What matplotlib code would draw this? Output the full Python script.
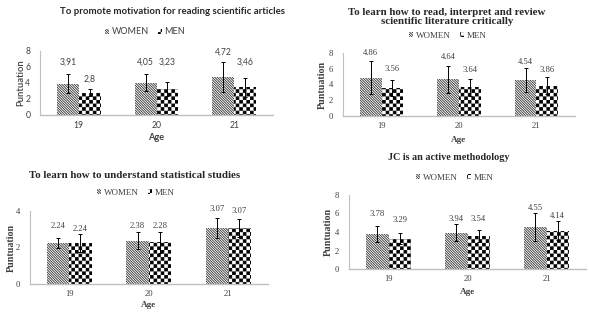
import numpy as np
import matplotlib
matplotlib.use("Agg")
import matplotlib.pyplot as plt
import matplotlib.hatch as mhatch
from matplotlib.path import Path
from matplotlib.patches import Patch

# ---------------- data ----------------
ages = ["19", "20", "21"]
series = ["WOMEN", "MEN"]

titles = [
    "To promote motivation for reading scientific articles",
    "To learn how to read, interpret and review\nscientific literature critically",
    "To learn how to understand statistical studies",
    "JC is an active methodology",
]

p1_women = [3.91, 4.05, 4.72]
p1_men = [2.80, 3.23, 3.46]
p1_women_err = [1.2, 1.05, 1.9]
p1_men_err = [0.45, 0.85, 1.2]

p2_women = [4.86, 4.64, 4.54]
p2_men = [3.56, 3.64, 3.86]
p2_women_err = [2.1, 1.75, 1.55]
p2_men_err = [1.0, 1.1, 1.1]

p3_women = [2.24, 2.38, 3.07]
p3_men = [2.24, 2.28, 3.07]
p3_women_err = [0.27, 0.46, 0.53]
p3_men_err = [0.49, 0.56, 0.5]

p4_women = [3.78, 3.94, 4.55]
p4_men = [3.29, 3.54, 4.14]
p4_women_err = [0.82, 0.95, 1.5]
p4_men_err = [0.64, 0.64, 1.04]

y_ticks = [[0, 2, 4, 6, 8], [0, 2, 4, 6, 8], [0, 2, 4], [0, 2, 4, 6, 8]]

# label heights (layout, data units) for the value labels
lab_women = [[6.6, 6.6, 7.9], [8.0, 7.5, 6.9], [3.17, 3.17, 4.1], [5.9, 5.4, 6.6]]
lab_men = [[4.5, 6.6, 6.6], [6.0, 5.9, 5.8], [3.0, 3.17, 4.0], [5.3, 5.4, 5.7]]

# ---------------- custom hatches: 'O' checkerboard, 'o' fine diagonals ----------------
HATCH_LW = 0.6
plt.rcParams['hatch.linewidth'] = HATCH_LW


class _Checker(mhatch.HatchPatternBase):
    def __init__(self, hatch, density):
        n = hatch.count('O') * 7
        if n % 2:
            n += 1
        self.n = n
        self.num_vertices = (n * n // 2) * 5 if n else 0

    def set_vertices_and_codes(self, vertices, codes):
        n = self.n
        s = 1.0 / n
        d = (HATCH_LW * 100 / 72.0) / 2.0 / 100.0
        k = 0
        for i in range(n):
            for j in range(n):
                if (i + j) % 2 == 0:
                    x0, y0 = i * s + d, j * s + d
                    x1, y1 = (i + 1) * s - d, (j + 1) * s - d
                    vertices[k:k + 5] = [(x0, y0), (x1, y0), (x1, y1), (x0, y1), (x0, y0)]
                    codes[k:k + 5] = [Path.MOVETO, Path.LINETO, Path.LINETO,
                                      Path.LINETO, Path.CLOSEPOLY]
                    k += 5


class _Diag(mhatch.HatchPatternBase):
    def __init__(self, hatch, density):
        self.num_lines = hatch.count('o') * 20
        self.num_vertices = (self.num_lines + 1) * 2 if self.num_lines else 0

    def set_vertices_and_codes(self, vertices, codes):
        steps = np.linspace(-0.5, 0.5, self.num_lines + 1)
        vertices[0::2, 0] = 0.0 + steps
        vertices[0::2, 1] = 1.0 + steps
        vertices[1::2, 0] = 1.0 + steps
        vertices[1::2, 1] = 0.0 + steps
        codes[0::2] = Path.MOVETO
        codes[1::2] = Path.LINETO


mhatch._hatch_types = [t for t in mhatch._hatch_types
                       if t not in (mhatch.LargeCircles, mhatch.SmallCircles)] + [_Checker, _Diag]

W, H = 589, 314
fig = plt.figure(figsize=(W / 100, H / 100), dpi=100)
fig.patch.set_facecolor("white")


def fx(px):
    return px / W


def fy(py):
    return 1 - py / H


SANS = "Lato"
SERIF = "Liberation Serif"

WOMEN_HATCH = "oooo"
MEN_HATCH = "OOOO"

panels = [
    dict(box=(40, 273, 51, 115), women=p1_women, men=p1_men, we=p1_women_err, me=p1_men_err,
         ymax=8, font=SANS, title_xy=(172, 12), leg_xy=(145, 32), ylab_x=21, age_y=138,
         comma=True, tfs=6.9, bold_labels=False, ylfs=6.8),
    dict(box=(343, 575, 53, 116), women=p2_women, men=p2_men, we=p2_women_err, me=p2_men_err,
         ymax=8, font=SERIF, title_xy=(447, 17), leg_xy=(448, 36), ylab_x=322, age_y=140,
         comma=False, tfs=7.8, bold_labels=True, ylfs=7.2),
    dict(box=(29.5, 268, 211, 284), women=p3_women, men=p3_men, we=p3_women_err, me=p3_men_err,
         ymax=4, font=SERIF, title_xy=(135, 175), leg_xy=(136, 193), ylab_x=11, age_y=305,
         comma=False, tfs=7.8, bold_labels=True, ylfs=7.2),
    dict(box=(349, 586, 195, 269), women=p4_women, men=p4_men, we=p4_women_err, me=p4_men_err,
         ymax=8, font=SERIF, title_xy=(449, 158), leg_xy=(455, 178), ylab_x=328, age_y=292,
         comma=False, tfs=7.3, bold_labels=True, ylfs=7.2),
]

x = np.arange(len(ages))
bw = 0.28
for i, p in enumerate(panels):
    l, r, t, b = p["box"]
    ax = fig.add_axes([fx(l), fy(b), (r - l) / W, (b - t) / H])
    ekw = dict(elinewidth=0.7, capsize=1.6, capthick=0.7, ecolor="black")
    ax.bar(x - bw / 2, p["women"], bw, yerr=p["we"], color="white", edgecolor="#2e2e2e",
           linewidth=0, hatch=WOMEN_HATCH, error_kw=ekw, zorder=2)
    ax.bar(x + bw / 2, p["men"], bw, yerr=p["me"], color="white", edgecolor="black",
           linewidth=0, hatch=MEN_HATCH, error_kw=ekw, zorder=2)
    ax.set_xlim(-0.5, 2.5)
    ax.set_ylim(0, p["ymax"])
    ax.set_yticks(y_ticks[i])
    ax.set_xticks(x)
    ax.set_xticklabels(ages)
    for s in ["top", "right"]:
        ax.spines[s].set_visible(False)
    ax.spines["left"].set_color("#bfbfbf")
    ax.spines["left"].set_linewidth(0.8)
    ax.spines["bottom"].set_color("#bfbfbf")
    ax.spines["bottom"].set_linewidth(1.0)
    ax.tick_params(length=0, labelsize=6.2, colors="#404040", pad=4)
    for lab in ax.get_xticklabels() + ax.get_yticklabels():
        lab.set_family(p["font"])
        lab.set_color("#404040")
    ax.tick_params(axis="y", pad=7)

    fmt = (lambda v: f"{v:g}".replace(".", ",")) if p["comma"] else (lambda v: f"{v:.2f}")
    for j in range(len(ages)):
        ax.text(x[j] - bw / 2, lab_women[i][j], fmt(p["women"][j]), ha="center", va="center",
                fontsize=6.2, family=p["font"], color="#404040")
        ax.text(x[j] + bw / 2, lab_men[i][j], fmt(p["men"][j]), ha="center", va="center",
                fontsize=6.2, family=p["font"], color="#404040")

    fig.text(fx(p["title_xy"][0]), fy(p["title_xy"][1]), titles[i], ha="center", va="center",
             fontsize=p["tfs"], fontweight="bold", family=p["font"], color="#262626",
             linespacing=1.0)
    cx = (l + r) / 2
    fig.text(fx(cx), fy(p["age_y"]), "Age", ha="center", va="center", fontsize=6.6,
             fontweight="bold", family=p["font"], color="#404040")
    fig.text(fx(p["ylab_x"]), fy((t + b) / 2), "Puntuation", ha="center", va="center",
             rotation=90, fontsize=p["ylfs"], fontweight="bold" if p["bold_labels"] else "semibold",
             family=p["font"], color="#404040")

    handles = [Patch(facecolor="white", edgecolor="#2e2e2e", linewidth=0, hatch=WOMEN_HATCH),
               Patch(facecolor="white", edgecolor="black", linewidth=0, hatch=MEN_HATCH)]
    leg = fig.legend(handles, series, loc="center",
                     bbox_to_anchor=(fx(p["leg_xy"][0]), fy(p["leg_xy"][1])),
                     ncol=2, frameon=False, handlelength=0.45, handleheight=0.45,
                     handletextpad=0.3, columnspacing=1.0,
                     prop=dict(family=p["font"], size=6.5))
    for tx in leg.get_texts():
        tx.set_color("#404040")

fig.savefig("out.png", dpi=100, facecolor="white")
